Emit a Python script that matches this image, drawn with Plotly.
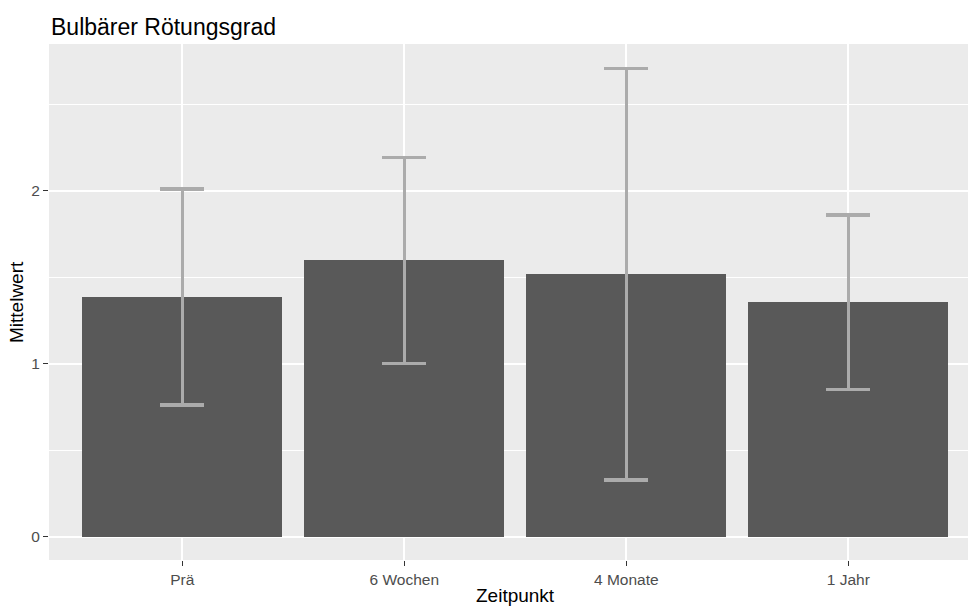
import plotly.graph_objects as go

# Mean redness grade per time point with standard deviation
zeitpunkte = ["Prä", "6 Wochen", "4 Monate", "1 Jahr"]
mittelwerte = [1.385, 1.597, 1.518, 1.355]
standardabw = [0.624, 0.595, 1.190, 0.504]

W, H = 968, 607
L, R, T, B = 49, 0, 44, 47

fig = go.Figure()
fig.add_trace(go.Bar(
    x=list(range(len(zeitpunkte))),
    y=mittelwerte,
    width=0.9,
    marker=dict(color="#595959", line=dict(width=0)),
    error_y=dict(type="data", array=standardabw, symmetric=True,
                 color="#ABABAB", thickness=3.4, width=22),
    hoverinfo="skip",
))

font = "Liberation Sans, Arial, sans-serif"
fig.update_layout(
    width=W, height=H,
    margin=dict(l=L, r=R, t=T, b=B, pad=0),
    paper_bgcolor="white",
    plot_bgcolor="#EBEBEB",
    showlegend=False,
    bargap=0,
    font=dict(family=font),
    xaxis=dict(
        range=[-0.6, 3.539],
        tickmode="array",
        tickvals=list(range(len(zeitpunkte))),
        ticktext=zeitpunkte,
        ticks="outside", ticklen=5, tickwidth=1.2, tickcolor="#333333",
        tickfont=dict(size=15.5, color="#4D4D4D"),
        showgrid=True, gridcolor="white", gridwidth=1.5,
        zeroline=False, showline=False,
    ),
    yaxis=dict(
        range=[-0.135, 2.848],
        tickmode="array",
        tickvals=[0, 1, 2],
        ticktext=["0", "1", "2"],
        ticks="outside", ticklen=5, tickwidth=1.2, tickcolor="#333333",
        tickfont=dict(size=15.5, color="#4D4D4D"),
        showgrid=True, gridcolor="white", gridwidth=1.5,
        minor=dict(tickvals=[0.5, 1.5, 2.5], showgrid=True,
                   gridcolor="white", gridwidth=0.8, ticks=""),
        zeroline=False, showline=False,
    ),
)

# Title and axis titles
fig.add_annotation(text="Bulbärer Rötungsgrad", xref="paper", yref="paper",
                   x=0, y=1 + (T - 27) / (H - T - B), xanchor="left", yanchor="middle",
                   showarrow=False, font=dict(size=23, color="black", family=font))
fig.add_annotation(text="Zeitpunkt", xref="paper", yref="paper",
                   x=(515 - L) / (W - L - R), y=-(595 - (H - B)) / (H - T - B),
                   xanchor="center", yanchor="middle",
                   showarrow=False, font=dict(size=19, color="black", family=font))
fig.add_annotation(text="Mittelwert", xref="paper", yref="paper",
                   x=-(L - 16) / (W - L - R), y=0.5, textangle=-90,
                   xanchor="center", yanchor="middle",
                   showarrow=False, font=dict(size=19, color="black", family=font))

fig.write_html("out.html")
